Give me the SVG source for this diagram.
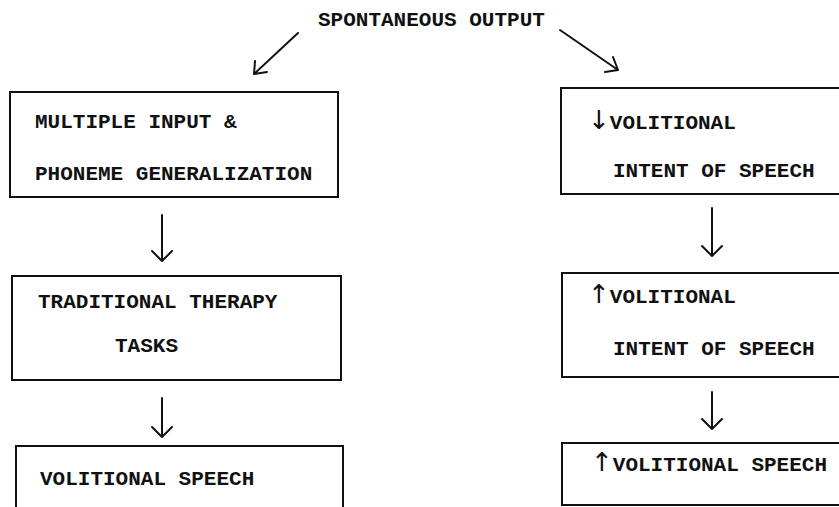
<svg xmlns="http://www.w3.org/2000/svg" width="839" height="507" viewBox="0 0 839 507">
<style>
  .box { fill: none; stroke: #111; stroke-width: 2; }
  .t { font-family: "Liberation Mono", "Courier New", monospace; font-size: 21px; fill: #111; font-weight: bold; }
  .sym { font-family: "DejaVu Sans", sans-serif; font-weight: normal; font-size: 26px; }
  .c { fill: none; stroke: #111; stroke-width: 2; stroke-linecap: round; stroke-linejoin: round; }
</style>
<rect width="839" height="507" fill="#fff"/>
<g id="title">
  <text class="t" x="318" y="26">SPONTANEOUS OUTPUT</text>
</g>
<g id="n1">
  <rect class="box" x="10" y="92" width="328" height="105"/>
  <text class="t" x="35" y="128">MULTIPLE INPUT &amp;</text>
  <text class="t" x="35" y="180">PHONEME GENERALIZATION</text>
</g>
<g id="n2">
  <rect class="box" x="561" y="88" width="290" height="106"/>
  <text class="t" x="588" y="129"><tspan class="sym">↓</tspan>VOLITIONAL</text>
  <text class="t" x="613" y="177">INTENT OF SPEECH</text>
</g>
<g id="n3">
  <rect class="box" x="12" y="276" width="329" height="104"/>
  <text class="t" x="38" y="308">TRADITIONAL THERAPY</text>
  <text class="t" x="115" y="352">TASKS</text>
</g>
<g id="n4">
  <rect class="box" x="562" y="273" width="290" height="104"/>
  <text class="t" x="588" y="303"><tspan class="sym">↑</tspan>VOLITIONAL</text>
  <text class="t" x="613" y="355">INTENT OF SPEECH</text>
</g>
<g id="n5">
  <rect class="box" x="16" y="446" width="327" height="80"/>
  <text class="t" x="40" y="485">VOLITIONAL SPEECH</text>
</g>
<g id="n6">
  <rect class="box" x="562" y="443" width="290" height="62"/>
  <text class="t" x="591" y="471"><tspan class="sym">↑</tspan>VOLITIONAL SPEECH</text>
</g>
<g id="connectors">
  <path class="c" d="M298,33 L254,74 M254,74 L255,61 M254,74 L267,72"/>
  <path class="c" d="M560,30 L618,70 M618,70 L613,57 M618,70 L605,72"/>
  <path class="c" d="M162,215 L162,261 M152,251 L162,261 L172,251"/>
  <path class="c" d="M162,398 L162,437 M152,427 L162,437 L172,427"/>
  <path class="c" d="M712,208 L712,256 M702,246 L712,256 L722,246"/>
  <path class="c" d="M712,392 L712,429 M702,419 L712,429 L722,419"/>
</g>
</svg>
